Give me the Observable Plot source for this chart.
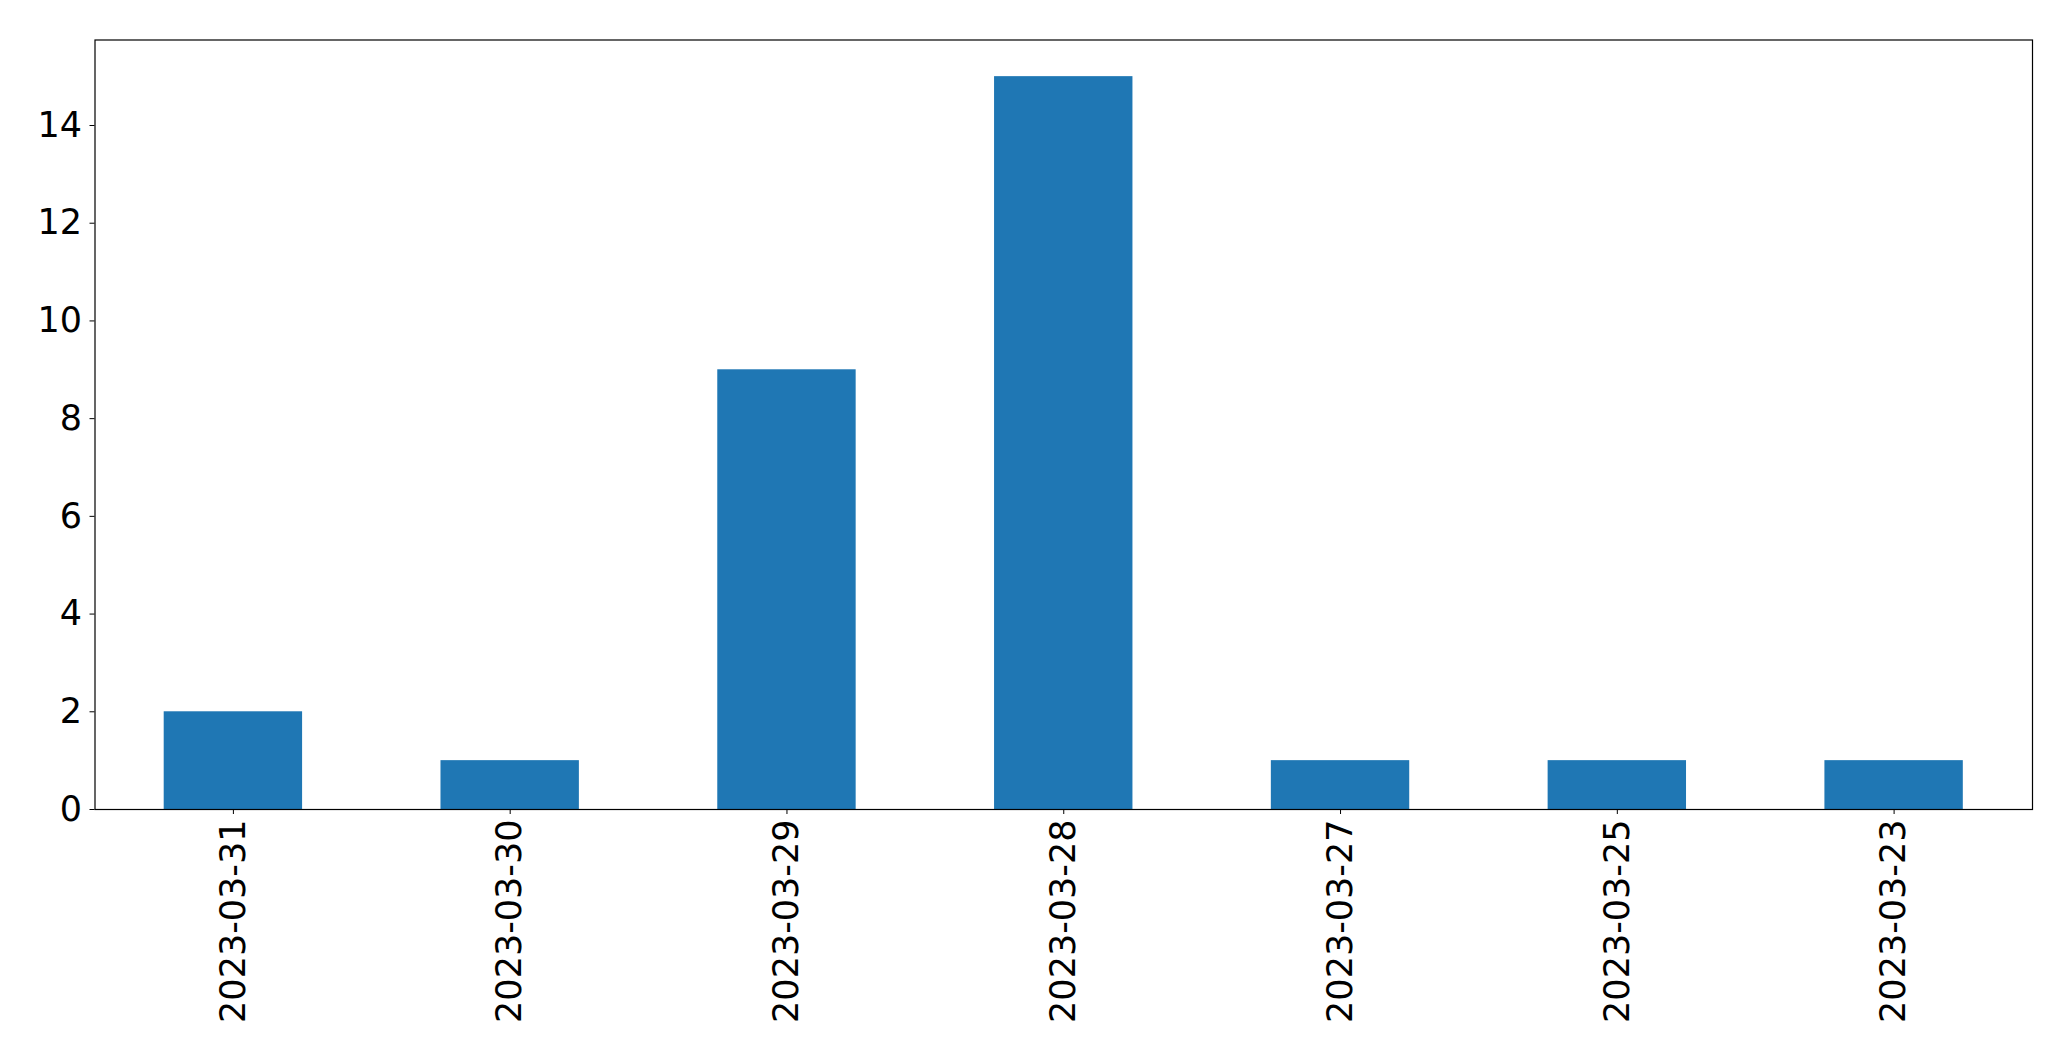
<!DOCTYPE html>
<html>
<head>
<meta charset="utf-8">
<script src="https://cdn.jsdelivr.net/npm/d3@7"></script>
<script src="https://cdn.jsdelivr.net/npm/@observablehq/plot@0.6"></script>
<style>
  html, body { margin: 0; padding: 0; background: #fff; }
  svg { display: block; }
</style>
</head>
<body>
<div id="chart"></div>
<script>
const dates = ["2023-03-31", "2023-03-30", "2023-03-29", "2023-03-28", "2023-03-27", "2023-03-25", "2023-03-23"];
const counts = [2, 1, 9, 15, 1, 1, 1];
const yTicks = [0, 2, 4, 6, 8, 10, 12, 14];

const data = dates.map((d, i) => ({date: d, count: counts[i]}));

const chart = Plot.plot({
  width: 2071,
  height: 1061,
  marginLeft: 94.5,
  marginRight: 39,
  marginTop: 39.5,
  marginBottom: 252,
  style: {fontFamily: "DejaVu Sans", fontSize: "35px", color: "#000", background: "#fff"},
  x: {domain: dates, paddingInner: 0.5, paddingOuter: 0.25, round: false, label: null},
  y: {domain: [0, 15.75], label: null},
  marks: [
    Plot.barY(data, {x: "date", y: "count", fill: "#1f77b4"}),
    Plot.axisY({ticks: yTicks, tickSize: 5, tickPadding: 8, label: null, fontSize: 35, tickFormat: d => String(d)}),
    Plot.axisX({tickSize: 5, tickPadding: 5, tickRotate: -90, label: null, fontSize: 35}),
    Plot.frame({stroke: "#000", strokeWidth: 1.2})
  ]
});
document.getElementById("chart").appendChild(chart);
</script>
</body>
</html>
